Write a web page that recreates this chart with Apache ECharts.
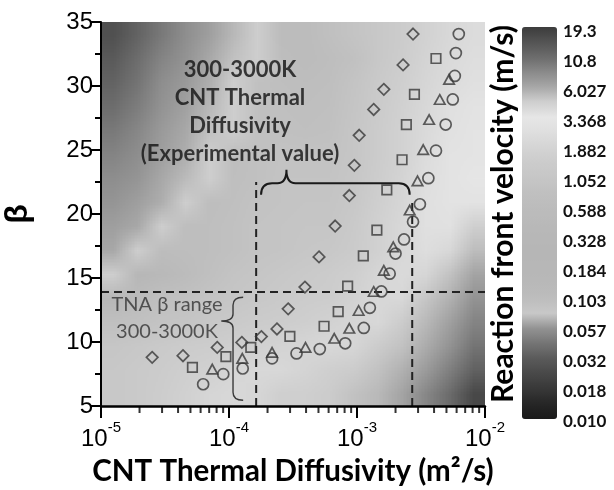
<!DOCTYPE html>
<html><head><meta charset="utf-8">
<script src="https://cdn.jsdelivr.net/npm/echarts@6/dist/echarts.min.js"></script>
<style>html,body{margin:0;padding:0;background:#fff}#c{width:614px;height:490px}</style>
</head><body><div id="c"></div>
<script>
// ---------------- data ----------------
const diamondX = [2.51e-5, 4.37e-5, 8.09e-5, 1.26e-4, 1.79e-4, 2.37e-4, 2.90e-4, 3.92e-4, 5.05e-4, 6.75e-4, 8.71e-4, 9.53e-4, 1.04e-3, 1.35e-3, 1.62e-3, 2.29e-3, 2.74e-3];
const diamondBeta = [8.80, 8.93, 9.58, 9.97, 10.42, 11.02, 12.59, 14.29, 16.65, 19.06, 21.44, 23.80, 26.15, 28.17, 29.74, 31.65, 34.06];
const squareX = [5.18e-5, 9.46e-5, 1.48e-4, 2.99e-4, 5.53e-4, 7.13e-4, 8.45e-4, 1.12e-3, 1.43e-3, 1.71e-3, 2.25e-3, 2.43e-3, 2.81e-3, 4.14e-3];
const squareBeta = [8.01, 8.85, 9.58, 10.44, 11.23, 12.38, 14.37, 16.73, 18.74, 21.88, 24.24, 26.99, 29.35, 32.15];
const triangleX = [7.40e-5, 1.27e-4, 2.17e-4, 3.96e-4, 6.64e-4, 8.71e-4, 1.03e-3, 1.35e-3, 1.62e-3, 1.92e-3, 2.58e-3, 2.97e-3, 3.29e-3, 3.66e-3, 4.43e-3, 5.24e-3];
const triangleBeta = [7.88, 8.72, 9.19, 9.58, 10.29, 11.07, 12.46, 13.95, 15.60, 17.43, 20.31, 22.59, 25.03, 27.38, 28.95, 30.52];
const circleX = [6.28e-5, 9.02e-5, 1.28e-4, 2.17e-4, 3.37e-4, 5.12e-4, 8.09e-4, 1.13e-3, 1.26e-3, 1.55e-3, 1.80e-3, 2.00e-3, 2.33e-3, 2.74e-3, 3.10e-3, 3.61e-3, 4.14e-3, 4.93e-3, 5.60e-3, 5.81e-3, 5.92e-3, 6.24e-3];
const circleBeta = [6.70, 7.49, 7.93, 8.72, 9.11, 9.45, 9.90, 11.10, 12.67, 13.95, 15.34, 16.91, 18.01, 19.40, 20.76, 22.80, 24.95, 26.99, 28.95, 30.79, 32.57, 34.06];

// background field: log10(reaction front velocity, m/s); rows top (beta 35) -> bottom (beta 5), columns 1e-5 -> 1e-2
const log10VelocityRows = [
  [1.18, 1.08, 0.98, 0.89, 0.82, 0.73, 0.66, -0.23, -0.23, -0.11, -0.03, 0.07, 0.15, 0.25, 0.33, 0.38],
  [1.13, 1.03, 0.93, 0.87, 0.78, 0.70, 0.66, -0.16, -0.23, -0.16, -0.08, 0.07, 0.17, 0.27, 0.35, 0.40],
  [1.08, 1.00, 0.89, 0.84, 0.76, 0.66, -0.08, -0.13, -0.18, -0.13, -0.03, 0.10, 0.20, 0.30, 0.38, 0.43],
  [1.03, 0.96, 0.87, 0.81, 0.73, 0.66, -0.08, -0.11, -0.13, -0.11, 0.00, 0.12, 0.22, 0.33, 0.43, 0.48],
  [0.98, 0.92, 0.84, 0.78, 0.70, 0.66, -0.08, -0.08, -0.11, -0.08, 0.02, 0.15, 0.25, 0.35, 0.45, 0.50],
  [0.93, 0.89, 0.82, 0.76, 0.66, -0.16, -0.08, -0.05, -0.05, -0.05, 0.02, 0.15, 0.25, 0.38, 0.48, 0.50],
  [0.89, 0.86, 0.78, 0.72, 0.66, -0.13, -0.08, -0.03, -0.03, -0.03, 0.05, 0.17, 0.27, 0.40, 0.48, 0.53],
  [0.86, 0.82, 0.76, 0.66, -0.18, -0.11, -0.05, -0.03, 0.00, 0.00, 0.07, 0.20, 0.30, 0.43, 0.48, 0.48],
  [0.82, 0.78, 0.66, -0.18, -0.13, -0.08, -0.03, 0.00, 0.02, 0.02, 0.10, 0.22, 0.33, 0.43, 0.45, 0.20],
  [0.78, 0.66, -0.21, -0.18, -0.13, -0.08, -0.03, 0.00, 0.05, 0.07, 0.12, 0.22, 0.33, 0.40, 0.33, -1.14],
  [0.66, -0.48, -0.36, -0.23, -0.11, -0.03, 0.02, 0.07, 0.10, 0.15, 0.20, 0.30, 0.35, 0.30, -1.13, -1.20],
  [-0.48, -0.23, -0.11, -0.08, -0.03, 0.02, 0.07, 0.10, 0.15, 0.17, 0.25, 0.33, 0.33, -1.12, -1.17, -1.24],
  [-0.11, -0.08, -0.03, 0.00, 0.07, 0.10, 0.15, 0.17, 0.20, 0.25, 0.30, 0.33, 0.15, -1.15, -1.21, -1.30],
  [0.02, 0.07, 0.10, 0.15, 0.17, 0.20, 0.22, 0.27, 0.30, 0.33, 0.30, 0.15, -1.13, -1.18, -1.24, -1.37],
  [0.07, 0.10, 0.15, 0.20, 0.22, 0.30, 0.33, 0.33, 0.27, 0.20, 0.15, -1.13, -1.17, -1.22, -1.32, -1.46],
  [0.07, 0.10, 0.17, 0.22, 0.30, 0.33, 0.30, 0.20, 0.20, 0.15, -1.13, -1.15, -1.20, -1.29, -1.41, -1.62]
];

const colorbarLabels = ['0.010', '0.018', '0.032', '0.057', '0.103', '0.184', '0.328', '0.588', '1.052', '1.882', '3.368', '6.027', '10.8', '19.3'];
const velocityMin = 0.010, velocityMax = 19.3;
const xMinorTickValues = [2e-5, 3e-5, 4e-5, 5e-5, 6e-5, 7e-5, 8e-5, 9e-5, 2e-4, 3e-4, 4e-4, 5e-4, 6e-4, 7e-4, 8e-4, 9e-4, 2e-3, 3e-3, 4e-3, 5e-3, 6e-3, 7e-3, 8e-3, 9e-3];

// annotations (data coordinates)
const tnaBetaLimit = 13.9;
const diffusivityRange = [1.63e-4, 2.70e-3];
const diffusivityLineTop = [22.5, 21.0];
const braceTop = { xLeft: 1.78e-4, xTip: 2.81e-4, xRight: 2.58e-3, betaEnds: 21.5, betaBar: 22.4, betaTip: 23.45 };
const braceLeft = { xEnds: 1.29e-4, xBar: 1.075e-4, xTip: 8.7e-5, betaTop: 13.5, betaTip: 11.64, betaBottom: 5.45 };
const noteExperimental = [1.22e-4, 28.0];
const noteTna = [3.28e-5, 11.84];

// ---------------- chart ----------------
const chart = echarts.init(document.getElementById('c'), null, { renderer: 'canvas' });
const nRows = log10VelocityRows.length, nCols = log10VelocityRows[0].length;
const heatData = [];
log10VelocityRows.forEach((row, r) => row.forEach((v, c) => heatData.push([c, nRows - 1 - r, v])));
const cats = n => Array.from({ length: n }, (_, i) => String(i));

// small raster holding one pixel per field cell; colours come from the visualMap, the image is scaled onto the grid
const fieldCanvas = document.createElement('canvas');
fieldCanvas.width = nCols; fieldCanvas.height = nRows;
const fieldCtx = fieldCanvas.getContext('2d');

const PLOT = { left: 101, top: 22, width: 384, height: 384 };
const markerStyle = { color: 'rgba(0,0,0,0)', borderColor: '#383838', borderWidth: 1.7 };
const dash = { color: '#222', width: 2, type: [8, 5] };
const pair = (xs, ys) => xs.map((x, i) => [x, ys[i]]);

const option = {
  animation: false,
  backgroundColor: '#fff',
  grid: [
    Object.assign({ outerBoundsMode: 'none', containLabel: false }, PLOT),
    Object.assign({ outerBoundsMode: 'none', containLabel: false }, PLOT),
    { left: 522, top: 31.5, width: 35, height: 390, outerBoundsMode: 'none', containLabel: false }
  ],
  xAxis: [
    {
      type: 'log', logBase: 10, min: 1e-5, max: 1e-2, gridIndex: 0, z: 10,
      axisLine: { show: true, lineStyle: { color: '#000', width: 2.5 } },
      axisTick: { show: true, inside: false, length: 12, lineStyle: { color: '#000', width: 2 } },
      splitLine: { show: false }, minorTick: { show: false },
      axisLabel: {
        margin: 14,
        formatter: v => '{b|10}{e|' + Math.round(Math.log10(v)) + '}',
        rich: {
          b: { fontFamily: 'Liberation Sans', fontSize: 24, color: '#000', padding: [7, 0, 0, 0] },
          e: { fontFamily: 'Liberation Sans', fontSize: 15, color: '#000', verticalAlign: 'top' }
        }
      },
      name: 'CNT Thermal Diffusivity (m²/s)', nameLocation: 'middle', nameGap: 50,
      nameTextStyle: { fontFamily: 'Lato', fontWeight: 'bold', fontSize: 29.5, color: '#000' }
    },
    { type: 'category', gridIndex: 1, data: cats(nCols), show: false, boundaryGap: true },
    { type: 'value', gridIndex: 2, show: false }
  ],
  yAxis: [
    {
      type: 'value', min: 5, max: 35, interval: 5, gridIndex: 0, z: 10,
      axisLine: { show: true, lineStyle: { color: '#000', width: 2 } },
      axisTick: { show: true, inside: false, length: 10, lineStyle: { color: '#000', width: 2 } },
      minorTick: { show: true, splitNumber: 2, length: 6, lineStyle: { color: '#000', width: 2 } },
      splitLine: { show: false },
      axisLabel: { margin: 8, fontFamily: 'Liberation Sans', fontSize: 24, color: '#000' },
      name: 'β', nameLocation: 'middle', nameGap: 67, nameRotate: 90,
      nameTextStyle: { fontFamily: 'Liberation Sans', fontWeight: 'bold', fontSize: 32, color: '#000' }
    },
    { type: 'category', gridIndex: 1, data: cats(nRows), show: false, boundaryGap: true },
    {
      type: 'category', gridIndex: 2, data: colorbarLabels, boundaryGap: false, position: 'right',
      axisLine: { show: false }, axisTick: { show: false }, splitLine: { show: false },
      axisLabel: { margin: 6, fontFamily: 'Lato', fontWeight: 'bold', fontSize: 17, color: '#111', interval: 0 }
    }
  ],
  visualMap: {
    type: 'continuous', seriesIndex: 0, dimension: 2, min: Math.log10(velocityMin), max: Math.log10(velocityMax),
    left: 522, top: 27, itemWidth: 35, itemHeight: 392, padding: 0, calculable: false, show: true,
    text: null, showLabel: false, hoverLink: false,
    inRange: { color: ['#1a1a1a', '#262626', '#383838', '#484848', '#5a5a5a', '#747474', '#929292', '#c8c8c8', '#bdbdbd', '#b8b8b8', '#b7b7b7', '#b6b6b6', '#b7b7b7', '#b9b9b9', '#bcbcbc', '#c0c0c0', '#c6c6c6', '#cccccc', '#d4d4d4', '#dedede', '#e6e6e6', '#d0d0d0', '#a8a8a8', '#8a8a8a', '#6c6c6c', '#545454', '#3c3c3c'] }
  },
  graphic: [
    {
      type: 'text', x: 503, y: 214, rotation: Math.PI / 2,
      style: { text: 'Reaction front velocity (m/s)', fontFamily: 'Lato', fontWeight: 'bold', fontSize: 30, fill: '#000', align: 'center', verticalAlign: 'middle' }
    }
  ],
  series: [
    {
      type: 'custom', xAxisIndex: 1, yAxisIndex: 1, data: heatData, z: 1, silent: true, clip: true, encode: { x: 0, y: 1 },
      renderItem: (params, api) => {
        const c = api.value(0), r = api.value(1);
        fieldCtx.fillStyle = api.visual('color');
        fieldCtx.fillRect(c, nRows - 1 - r, 1, 1);
        if (params.dataIndex !== 0) return null;
        const topLeft = api.coord([0, nRows - 1]);
        const s = api.size([1, 1]);
        return {
          type: 'image',
          style: { image: fieldCanvas, x: topLeft[0] - s[0] / 2, y: topLeft[1] - s[1] / 2, width: s[0] * nCols, height: s[1] * nRows }
        };
      }
    },
    { type: 'line', xAxisIndex: 0, yAxisIndex: 0, data: [[1e-5, tnaBetaLimit], [1e-2, tnaBetaLimit]], symbol: 'none', lineStyle: dash, z: 4, silent: true },
    { type: 'line', xAxisIndex: 0, yAxisIndex: 0, data: [[diffusivityRange[0], 5], [diffusivityRange[0], diffusivityLineTop[0]]], symbol: 'none', lineStyle: dash, z: 4, silent: true },
    { type: 'line', xAxisIndex: 0, yAxisIndex: 0, data: [[diffusivityRange[1], 5], [diffusivityRange[1], diffusivityLineTop[1]]], symbol: 'none', lineStyle: dash, z: 4, silent: true },
    {
      type: 'custom', xAxisIndex: 0, yAxisIndex: 0, data: [[braceTop.xLeft, braceTop.betaEnds]], z: 6, silent: true, clip: false,
      renderItem: (params, api) => {
        const L = api.coord([braceTop.xLeft, braceTop.betaEnds]);
        const B = api.coord([braceTop.xLeft, braceTop.betaBar]);
        const T = api.coord([braceTop.xTip, braceTop.betaTip]);
        const R = api.coord([braceTop.xRight, braceTop.betaEnds]);
        const yb = B[1], r = 11, rt = 9;
        const d = `M${L[0]},${L[1]} Q${L[0]},${yb} ${L[0] + r},${yb} L${T[0] - rt},${yb} Q${T[0]},${yb} ${T[0]},${T[1]} Q${T[0]},${yb} ${T[0] + rt},${yb} L${R[0] - r},${yb} Q${R[0]},${yb} ${R[0]},${R[1]}`;
        return { type: 'path', shape: { pathData: d }, style: { fill: 'none', stroke: '#1a1a1a', lineWidth: 2 } };
      }
    },
    {
      type: 'custom', xAxisIndex: 0, yAxisIndex: 0, data: [[braceLeft.xBar, braceLeft.betaTip]], z: 6, silent: true, clip: false,
      renderItem: (params, api) => {
        const TE = api.coord([braceLeft.xEnds, braceLeft.betaTop]);
        const BE = api.coord([braceLeft.xEnds, braceLeft.betaBottom]);
        const V = api.coord([braceLeft.xBar, braceLeft.betaTip]);
        const P = api.coord([braceLeft.xTip, braceLeft.betaTip]);
        const xv = V[0], r = 8, rt = 7;
        const d = `M${TE[0]},${TE[1]} Q${xv},${TE[1]} ${xv},${TE[1] + r} L${xv},${P[1] - rt} Q${xv},${P[1]} ${P[0]},${P[1]} Q${xv},${P[1]} ${xv},${P[1] + rt} L${xv},${BE[1] - r} Q${xv},${BE[1]} ${BE[0]},${BE[1]}`;
        return { type: 'path', shape: { pathData: d }, style: { fill: 'none', stroke: '#3a3a3a', lineWidth: 1.4 } };
      }
    },
    { type: 'scatter', name: 'diamond', xAxisIndex: 0, yAxisIndex: 0, data: pair(diamondX, diamondBeta), symbol: 'diamond', symbolSize: 11.5, itemStyle: markerStyle, z: 5 },
    { type: 'scatter', name: 'square', xAxisIndex: 0, yAxisIndex: 0, data: pair(squareX, squareBeta), symbol: 'rect', symbolSize: 9.5, itemStyle: markerStyle, z: 5 },
    { type: 'scatter', name: 'triangle', xAxisIndex: 0, yAxisIndex: 0, data: pair(triangleX, triangleBeta), symbol: 'triangle', symbolSize: [10.5, 9.5], itemStyle: markerStyle, z: 5 },
    { type: 'scatter', name: 'circle', xAxisIndex: 0, yAxisIndex: 0, data: pair(circleX, circleBeta), symbol: 'circle', symbolSize: 11, itemStyle: markerStyle, z: 5 },
    {
      type: 'scatter', xAxisIndex: 0, yAxisIndex: 0, data: xMinorTickValues.map(v => [v, 5]), symbol: 'rect', symbolSize: [2, 6],
      symbolOffset: [0, 4], itemStyle: { color: '#000' }, clip: false, silent: true, z: 10
    },
    {
      type: 'scatter', xAxisIndex: 0, yAxisIndex: 0, data: [noteExperimental], symbolSize: 1, itemStyle: { color: 'rgba(0,0,0,0)' }, silent: true, z: 7,
      label: { show: true, position: 'inside', formatter: '300-3000K\nCNT Thermal\nDiffusivity\n(Experimental value)', fontFamily: 'Lato', fontWeight: 'bold', fontSize: 22, lineHeight: 28, color: '#111', align: 'center', verticalAlign: 'middle' }
    },
    {
      type: 'scatter', xAxisIndex: 0, yAxisIndex: 0, data: [noteTna], symbolSize: 1, itemStyle: { color: 'rgba(0,0,0,0)' }, silent: true, z: 7,
      label: { show: true, position: 'inside', formatter: 'TNA β range\n300-3000K', fontFamily: 'Lato', fontSize: 20, lineHeight: 27, color: '#333', align: 'center', verticalAlign: 'middle' }
    }
  ]
};
chart.setOption(option);
</script>
</body></html>
